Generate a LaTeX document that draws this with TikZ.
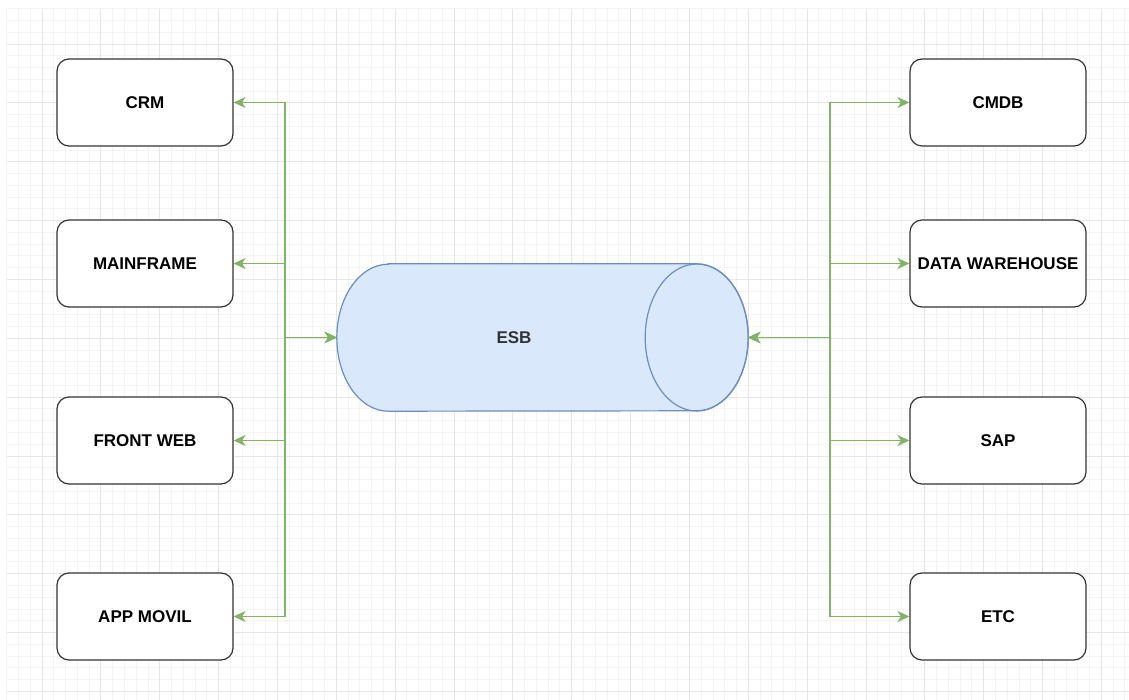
\documentclass[tikz,border=0pt]{standalone}
\usepackage{fontspec}
\setmainfont{Liberation Sans}
\usetikzlibrary{arrows.meta}

\definecolor{gridminor}{HTML}{F4F4F4}
\definecolor{gridmajor}{HTML}{E6E6E6}
\definecolor{linkgreen}{HTML}{82B366}
\definecolor{esbfill}{HTML}{DAE8FC}
\definecolor{esbline}{HTML}{6C8EBF}
\definecolor{boxline}{HTML}{333333}

\tikzset{
  label font/.style={font=\fontsize{17}{20}\selectfont\bfseries},
  sysbox/.style={draw=boxline,line width=1.2pt,fill=white,rounded corners=12pt,
    minimum width=176pt,minimum height=87pt,inner sep=2pt,label font},
  esbbody/.style={minimum width=411pt,minimum height=147pt,inner sep=0pt},
  esbshape/.style={draw=esbline,fill=esbfill,line width=1.2pt},
  link/.style={draw=linkgreen,line width=1.3pt,
    {Stealth[length=12pt,width=11pt,inset=3.5pt]}-{Stealth[length=12pt,width=11pt,inset=3.5pt]}},
}

\begin{document}
\begin{tikzpicture}[x=1pt,y=-1pt]
\useasboundingbox (0,0) rectangle (1129,700);
% background grid
\foreach \i in {0,...,95}
  \draw[gridminor,line width=0.8pt] ({6.7+11.77*\i},8.7) -- ({6.7+11.77*\i},700);
\foreach \i in {0,...,58}
  \draw[gridminor,line width=0.8pt] (6.7,{8.7+11.77*\i}) -- (1129,{8.7+11.77*\i});
\foreach \i in {0,...,18}
  \draw[gridmajor,line width=0.8pt] ({42+58.85*\i},8.7) -- ({42+58.85*\i},700);
\foreach \i in {0,...,11}
  \draw[gridmajor,line width=0.8pt] (6.7,{44+58.85*\i}) -- (1129,{44+58.85*\i});

% the bus in the middle, a lying cylinder
\node[esbbody] (esb) at (542.5,337.5) {};
\draw[esbshape] ([xshift=51.5pt]esb.north west) -- ([xshift=-51.5pt]esb.north east)
  arc[start angle=90,end angle=-90,x radius=51.5pt,y radius=73.5pt]
  -- ([xshift=51.5pt]esb.south west)
  arc[start angle=270,end angle=90,x radius=51.5pt,y radius=73.5pt] -- cycle;
\draw[esbshape,fill=none] ([xshift=-51.5pt]esb.east) ellipse[x radius=51.5pt,y radius=73.5pt];
\node[label font,text=black!80] (esbtext) at ([xshift=-28.5pt]esb.center) {ESB};

% systems on the left
\node[sysbox] (crm) at (145,102.5) {CRM};
\node[sysbox] (mainframe) at (145,263.5) {MAINFRAME};
\node[sysbox] (frontweb) at (145,440.5) {FRONT WEB};
\node[sysbox] (appmovil) at (145,616.5) {APP MOVIL};

% systems on the right
\node[sysbox] (cmdb) at (998,102.5) {CMDB};
\node[sysbox] (dwh) at (998,263.5) {DATA WAREHOUSE};
\node[sysbox] (sap) at (998,440.5) {SAP};
\node[sysbox] (etc) at (998,616.5) {ETC};

\coordinate (lbus) at (285,337.5);
\coordinate (rbus) at (830,337.5);

\foreach \n in {crm,mainframe,frontweb,appmovil}
  \draw[link] (\n.east) -| (lbus) -- (esb.west);
\foreach \n in {cmdb,dwh,sap,etc}
  \draw[link] (esb.east) -- (rbus) |- (\n.west);
\end{tikzpicture}
\end{document}
